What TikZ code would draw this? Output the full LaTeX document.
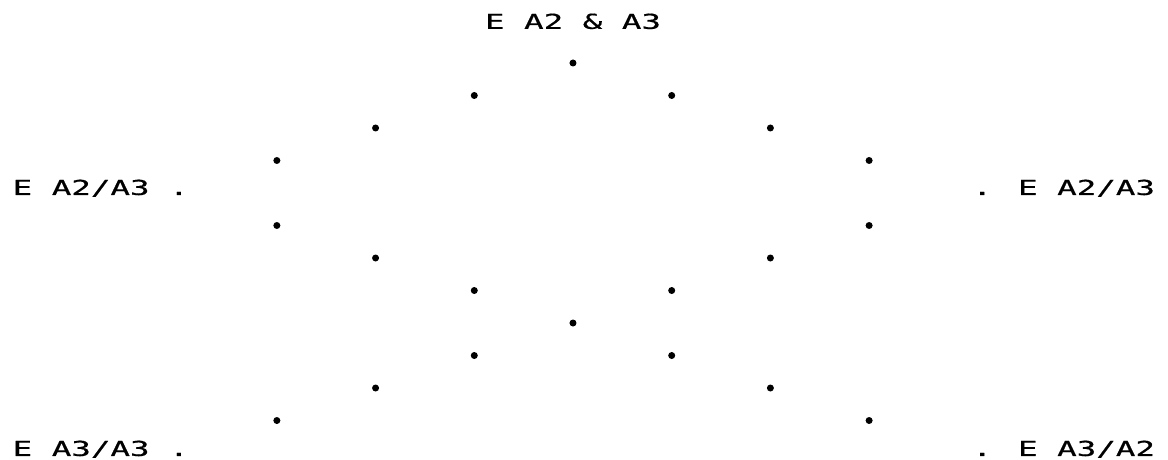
\documentclass[tikz,border=0pt]{standalone}
\usepackage{fontspec}
\newfontfamily\plotfont[FakeStretch=1.58,FakeBold=0.6]{DejaVu Sans Mono}
\tikzset{
 pt/.style={circle,fill,inner sep=0pt,minimum size=0.14cm},
 lab/.style={inner sep=0pt,font=\plotfont\fontsize{11.7}{13}\selectfont}
}
\begin{document}
\begin{tikzpicture}[x=1.974cm,y=0.65cm]
 \useasboundingbox (-5.805,-8.215) rectangle (6.028,5.938);
 \node[lab,anchor=base] (top) at (0,5.05) {E A2 \& A3};
 \node[pt] (p0) at (0,4) {};
 \node[pt] (p1l) at (-1,3) {}; \node[pt] (p1r) at (1,3) {};
 \node[pt] (p2l) at (-2,2) {}; \node[pt] (p2r) at (2,2) {};
 \node[pt] (p3l) at (-3,1) {}; \node[pt] (p3r) at (3,1) {};
 \node[lab,anchor=base west] (midl) at (-5.68,-0.06) {E A2/A3 .};
 \node[lab,anchor=base east] (midr) at (5.9,-0.06) {. E A2/A3};
 \node[pt] (p5l) at (-3,-1) {}; \node[pt] (p5r) at (3,-1) {};
 \node[pt] (p6l) at (-2,-2) {}; \node[pt] (p6r) at (2,-2) {};
 \node[pt] (p7l) at (-1,-3) {}; \node[pt] (p7r) at (1,-3) {};
 \node[pt] (p8) at (0,-4) {};
 \node[pt] (p9l) at (-1,-5) {}; \node[pt] (p9r) at (1,-5) {};
 \node[pt] (p10l) at (-2,-6) {}; \node[pt] (p10r) at (2,-6) {};
 \node[pt] (p11l) at (-3,-7) {}; \node[pt] (p11r) at (3,-7) {};
 \node[lab,anchor=base west] (botl) at (-5.68,-8.09) {E A3/A3 .};
 \node[lab,anchor=base east] (botr) at (5.9,-8.09) {. E A3/A2};
\end{tikzpicture}
\end{document}
